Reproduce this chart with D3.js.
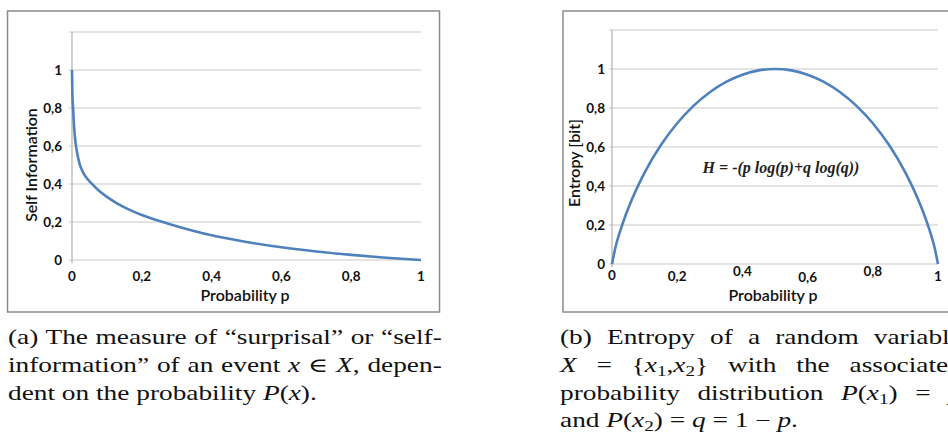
<!DOCTYPE html>
<html>
<head>
<meta charset="utf-8">
<script src="https://cdn.jsdelivr.net/npm/d3@7"></script>
<style>
  body { margin: 0; background: #fff; }
  svg { display: block; }
  .tick-lbl { font-family: Lato, "Open Sans", sans-serif; font-weight: 700; font-size: 13.5px; fill: #111; }
  .ax-title { font-family: Lato, "Open Sans", sans-serif; font-weight: 600; font-size: 16px; fill: #111; }
  .caption { font-family: "Liberation Serif", "DejaVu Serif", serif; font-size: 20px; fill: #111; }
</style>
</head>
<body>
<svg id="chart" width="948" height="434"></svg>
<script>
// values
const tickValues = [0, 0.2, 0.4, 0.6, 0.8, 1];
const gridValues = [0, 0.2, 0.4, 0.6, 0.8, 1, 1.2];

const selfP    = [0, 0.001, 0.003, 0.006, 0.01, 0.015, 0.022, 0.032, 0.045, 0.06, 0.08, 0.1, 0.13, 0.17, 0.2, 0.26, 0.3, 0.4, 0.5, 0.6, 0.7, 0.8, 0.9, 1.0];
const selfInfo = [1.0, 0.88, 0.8, 0.7, 0.62, 0.56, 0.505, 0.46, 0.425, 0.395, 0.36, 0.332, 0.297, 0.26, 0.237, 0.2, 0.178, 0.13, 0.095, 0.067, 0.045, 0.027, 0.012, 0];

const entP    = [0, 0.01, 0.03, 0.05, 0.075, 0.1, 0.15, 0.2, 0.25, 0.3, 0.35, 0.4, 0.45, 0.5, 0.55, 0.6, 0.65, 0.7, 0.75, 0.8, 0.85, 0.9, 0.925, 0.95, 0.97, 0.99, 1];
const entropy = [0, 0.081, 0.194, 0.286, 0.384, 0.469, 0.61, 0.722, 0.811, 0.881, 0.934, 0.971, 0.993, 1.0, 0.993, 0.971, 0.934, 0.881, 0.811, 0.722, 0.61, 0.469, 0.384, 0.286, 0.194, 0.081, 0];

const svg = d3.select("#chart");
svg.append("rect").attr("width", 948).attr("height", 434).attr("fill", "#fff");

const locale = d3.formatLocale({decimal: ",", thousands: ".", grouping: [3], currency: ["", ""]});
const fmt = locale.format("~g");

function panel(opt) {
  const g = svg.append("g");

  // outer frame
  g.append("rect")
    .attr("x", opt.frame[0]).attr("y", opt.frame[1])
    .attr("width", opt.frame[2]).attr("height", opt.frame[3])
    .attr("fill", "none").attr("stroke", "#8c8c8c").attr("stroke-width", 1.5);

  const x = d3.scaleLinear().domain([0, 1]).range([opt.x0, opt.x1]);
  const y = d3.scaleLinear().domain([0, 1.2]).range([opt.y0, opt.y1]);

  // gridlines
  g.selectAll(".grid").data(gridValues).enter().append("line")
    .attr("x1", opt.x0 - 3).attr("x2", opt.x1)
    .attr("y1", d => y(d)).attr("y2", d => y(d))
    .attr("stroke", "#c9c9c9").attr("stroke-width", 1.2);

  // y axis line
  g.append("line")
    .attr("x1", opt.x0).attr("x2", opt.x0)
    .attr("y1", y(0) + 3).attr("y2", y(1.2))
    .attr("stroke", "#b0b0b0").attr("stroke-width", 1.2);

  // y tick labels
  g.selectAll(".ylbl").data(tickValues).enter().append("text")
    .attr("class", "tick-lbl")
    .attr("x", opt.yLabelX).attr("y", d => y(d) + 4.5)
    .attr("text-anchor", "end")
    .text(d => fmt(d));

  // x tick labels
  g.selectAll(".xlbl").data(tickValues).enter().append("text")
    .attr("class", "tick-lbl")
    .attr("x", d => x(d)).attr("y", (d, i) => opt.xLabelY + (opt.xLabelDy ? opt.xLabelDy[i] : 0))
    .attr("text-anchor", "middle")
    .text(d => fmt(d));

  g.append("text").attr("class", "ax-title")
    .attr("x", opt.xTitleX).attr("y", opt.xTitleY)
    .attr("text-anchor", "middle")
    .text("Probability p");

  g.append("text").attr("class", "ax-title")
    .attr("transform", `translate(${opt.yTitleX},${opt.yTitleY}) rotate(-90)`)
    .attr("text-anchor", "middle")
    .text(opt.yTitle);

  const line = d3.line()
    .x((d, i) => x(opt.px[i]))
    .y(d => y(d))
    .curve(d3.curveMonotoneX);

  g.append("path")
    .datum(opt.py)
    .attr("d", line)
    .attr("fill", "none")
    .attr("stroke", "#4f81bd")
    .attr("stroke-width", 2.6)
    .attr("stroke-linejoin", "round");

  return {g, x, y};
}

panel({
  frame: [7.5, 11, 432, 301],
  x0: 72, x1: 421, y0: 260, y1: 32,
  yLabelX: 62, xLabelY: 281, xTitleX: 245, xTitleY: 301,
  yTitle: "Self Information", yTitleX: 37, yTitleY: 165,
  px: selfP, py: selfInfo
});

const right = panel({
  frame: [563, 11, 400, 301],
  x0: 612, x1: 938, y0: 264, y1: 30,
  yLabelX: 605, xLabelY: 280, xLabelDy: [0, 1, -4, 1.5, -4, 0.5], xTitleX: 773, xTitleY: 301,
  yTitle: "Entropy [bit]", yTitleX: 580, yTitleY: 163,
  px: entP, py: entropy
});

right.g.append("text")
  .attr("x", 781).attr("y", 173)
  .attr("text-anchor", "middle")
  .style("font-family", "'Liberation Serif', serif")
  .style("font-style", "italic")
  .style("font-weight", 700)
  .style("font-size", "16px")
  .attr("fill", "#222")
  .text("H = -(p log(p)+q log(q))");

// captions: glyphs widened to the reference's font width, justified lines get word spacing
function makeLine(parts) {
  const t = svg.append("text").attr("class", "caption");
  parts.forEach(p => {
    const s = t.append("tspan").text(p.t);
    if (p.i) s.style("font-style", "italic");
    if (p.sub) s.attr("font-size", 14).attr("dy", 4);
    if (p.up) s.attr("dy", -4);
  });
  return t;
}

const captionLines = [
  {x: 8, y: 344, w: 434, parts: [{t: "(a) The measure of \u201csurprisal\u201d or \u201cself-"}]},
  {x: 8, y: 372, w: 434, parts: [{t: "information\u201d of an event "}, {t: "x", i: 1}, {t: " \u2208 "}, {t: "X", i: 1}, {t: ", depen-"}]},
  {x: 8, y: 399.5, parts: [{t: "dent on the probability "}, {t: "P", i: 1}, {t: "("}, {t: "x", i: 1}, {t: ")."}]},
  {x: 560, y: 344, w: 402, parts: [{t: "(b) Entropy of a random variable"}]},
  {x: 560, y: 372, w: 402, parts: [{t: "X", i: 1}, {t: " = {"}, {t: "x", i: 1}, {t: "1", sub: 1}, {t: ",", up: 1}, {t: "x", i: 1}, {t: "2", sub: 1}, {t: "} with the associated", up: 1}]},
  {x: 560, y: 399.5, w: 402, parts: [{t: "probability distribution "}, {t: "P", i: 1}, {t: "("}, {t: "x", i: 1}, {t: "1", sub: 1}, {t: ") = ", up: 1}, {t: "p", i: 1}]},
  {x: 560, y: 427, parts: [{t: "and "}, {t: "P", i: 1}, {t: "("}, {t: "x", i: 1}, {t: "2", sub: 1}, {t: ") = ", up: 1}, {t: "q", i: 1}, {t: " = 1 \u2212 "}, {t: "p", i: 1}, {t: "."}]}
];

// horizontal stretch from the last left line, which ends near x = 317
const ref = makeLine(captionLines[2].parts);
const k = 309 / ref.node().getComputedTextLength();
ref.remove();

captionLines.forEach(c => {
  const t = makeLine(c.parts);
  if (c.w) {
    const nat = t.node().getComputedTextLength();
    const n = c.parts.map(p => p.t).join("").split(" ").length - 1;
    t.attr("word-spacing", Math.max(0, (c.w / k - nat) / n));
  }
  t.attr("transform", `translate(${c.x},${c.y}) scale(${k},1)`);
});
</script>
</body>
</html>
